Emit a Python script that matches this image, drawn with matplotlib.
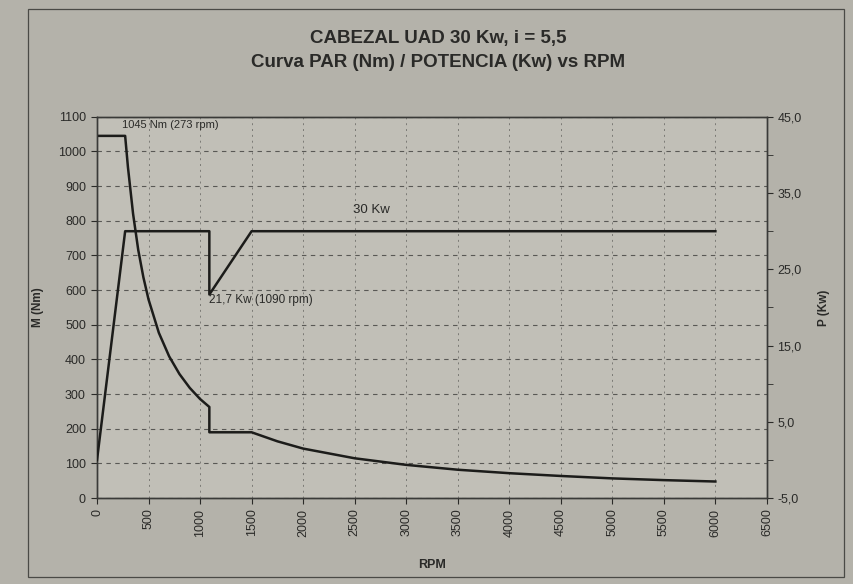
import matplotlib
matplotlib.use('Agg')
import matplotlib.pyplot as plt
from matplotlib.patches import Rectangle
from matplotlib.ticker import FuncFormatter, MultipleLocator

plt.rcParams['font.family'] = ['Liberation Sans', 'DejaVu Sans']

# torque curve M (Nm) vs RPM
rpm_torque = [0, 273, 300, 350, 400, 450, 500, 600, 700, 800, 900, 1000, 1090,
              1090, 1500, 1750, 2000, 2500, 3000, 3500, 4000, 4500, 5000, 5500, 6000]
torque = [1045, 1045, 955, 820, 716, 637, 573, 477, 409, 358, 318, 286, 263,
          190, 190, 164, 143, 115, 96, 82, 72, 64, 57, 52, 48]

# power curve P (Kw) vs RPM
rpm_power = [0, 273, 1090, 1090, 1500, 6000]
power = [0, 30, 30, 21.7, 30, 30]

x_ticks = list(range(0, 7000, 500))
p_ticks = [-5, 5, 15, 25, 35, 45]
p_minor = [0, 10, 20, 30, 40]
title_lines = ['CABEZAL UAD 30 Kw, i = 5,5', 'Curva PAR (Nm) / POTENCIA (Kw) vs RPM']

line_col = '#1c1c1a'
text_col = '#2a2a28'

fig = plt.figure(figsize=(8.54, 5.84), dpi=100, facecolor='#b4b2aa')
ax = fig.add_axes([0.1136, 0.147, 0.7844, 0.653], facecolor='#c1bfb7')
ax2 = ax.twinx()

ax.plot(rpm_torque, torque, color=line_col, lw=1.8, zorder=3)
ax2.plot(rpm_power, power, color=line_col, lw=1.8, zorder=3)

ax.set_xlim(0, 6500)
ax.set_ylim(0, 1100)
ax2.set_ylim(-5, 45)

ax.set_xticks(x_ticks)
ax.set_xticklabels([str(v) for v in x_ticks], rotation=90, fontsize=9, color=text_col)
ax.yaxis.set_major_locator(MultipleLocator(100))
ax.tick_params(axis='y', labelsize=9, colors=text_col, length=4, pad=4)
ax.tick_params(axis='x', length=4, colors=text_col)

ax2.set_yticks(p_ticks)
ax2.set_yticks(p_minor, minor=True)
ax2.yaxis.set_major_formatter(FuncFormatter(lambda v, p: f'{v:.1f}'.replace('.', ',')))
ax2.tick_params(axis='y', which='major', labelsize=9, colors=text_col, length=4)
ax2.tick_params(axis='y', which='minor', length=4, colors=text_col)

ax.grid(True, axis='y', color='#363634', ls=(0, (4, 4)), lw=0.8, alpha=0.75)
ax.grid(True, axis='x', color='#363634', ls=(0, (2, 4)), lw=0.7, alpha=0.5)
ax.set_axisbelow(True)

for a in (ax, ax2):
    for s in a.spines.values():
        s.set_color('#3a3a38')
        s.set_linewidth(1.0)

ax.set_xlabel('RPM', fontsize=9, fontweight='bold', color=text_col, labelpad=16)
ax.set_ylabel('M (Nm)', fontsize=8.5, fontweight='bold', color=text_col, labelpad=10)
ax2.set_ylabel('P (Kw)', fontsize=8.5, fontweight='bold', color=text_col, rotation=90, labelpad=12)

ax.text(240, 1075, '1045 Nm (273 rpm)', fontsize=8, color=text_col, va='center')
ax.text(1090, 572, '21,7 Kw (1090 rpm)', fontsize=8.5, color=text_col, va='center')
ax.text(2480, 830, '30 Kw', fontsize=9.5, color=text_col, va='center')

fig.text(0.513, 0.934, title_lines[0], ha='center', va='center', fontsize=13.5,
         fontweight='bold', color=text_col)
fig.text(0.513, 0.893, title_lines[1], ha='center', va='center', fontsize=13.5,
         fontweight='bold', color=text_col)

fig.patches.append(Rectangle((0.033, 0.012), 0.955, 0.972, transform=fig.transFigure,
                             fill=False, edgecolor='#4a4a46', lw=0.9))

fig.savefig('out.png', dpi=100, facecolor=fig.get_facecolor())
